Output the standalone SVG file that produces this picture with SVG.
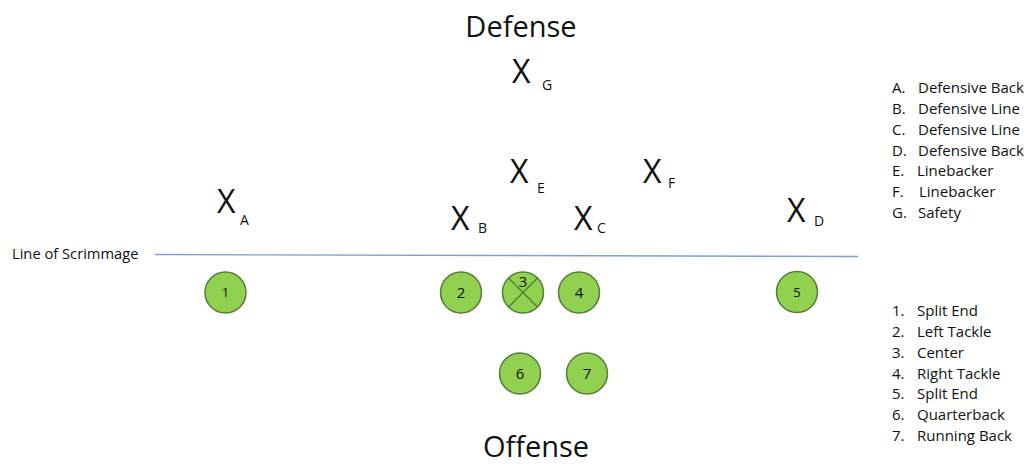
<svg xmlns="http://www.w3.org/2000/svg" width="1028" height="464" viewBox="0 0 1028 464">
<style>
text{font-family:"Open Sans","Liberation Sans",sans-serif;fill:#111;}
.title{font-size:29px;text-anchor:middle;}
.x{font-size:32px;}
.sub{font-size:14px;}
.leg{font-size:15px;}
.num{font-size:15px;text-anchor:middle;}
.snum{font-size:13px;text-anchor:middle;}
.p{fill:#92D050;stroke:#527F37;stroke-width:1.5;}
.cross{stroke:#527F37;stroke-width:1.5;fill:none;}
</style>
<rect width="1028" height="464" fill="#ffffff"/>
<g id="titles">
<text class="title" x="521" y="37">Defense</text>
<text class="title" x="536" y="457">Offense</text>
</g>
<g id="connectors">
<line x1="155" y1="254.5" x2="858" y2="256.5" stroke="#7F9FD6" stroke-width="1.3"/>
<text x="12" y="259" style="font-size:14.7px">Line of Scrimmage</text>
</g>
<g id="def-A"><text class="x" x="217" y="213">X</text><text class="sub" x="240" y="225">A</text></g>
<g id="def-B"><text class="x" x="451" y="230">X</text><text class="sub" x="478" y="233">B</text></g>
<g id="def-C"><text class="x" x="574" y="230">X</text><text class="sub" x="597" y="233">C</text></g>
<g id="def-D"><text class="x" x="787" y="222">X</text><text class="sub" x="814" y="226">D</text></g>
<g id="def-E"><text class="x" x="510" y="183">X</text><text class="sub" x="537" y="193">E</text></g>
<g id="def-F"><text class="x" x="643" y="183">X</text><text class="sub" x="668" y="188">F</text></g>
<g id="def-G"><text class="x" x="512" y="83">X</text><text class="sub" x="542" y="90">G</text></g>
<g id="off-1"><circle class="p" cx="225.5" cy="292.5" r="20.5"/><text class="snum" x="225.5" y="297">1</text></g>
<g id="off-2"><circle class="p" cx="461" cy="292.5" r="20.5"/><text class="num" x="461" y="298">2</text></g>
<g id="off-3"><circle class="p" cx="523" cy="292.5" r="20.5"/><line class="cross" x1="508.5" y1="278" x2="537.5" y2="307"/><line class="cross" x1="537.5" y1="278" x2="508.5" y2="307"/><text class="num" x="523" y="287">3</text></g>
<g id="off-4"><circle class="p" cx="579" cy="292.5" r="20.5"/><text class="num" x="579" y="298">4</text></g>
<g id="off-5"><circle class="p" cx="797" cy="292" r="20.5"/><text class="snum" x="797" y="296.5">5</text></g>
<g id="off-6"><circle class="p" cx="520" cy="373.5" r="20.5"/><text class="num" x="520" y="379">6</text></g>
<g id="off-7"><circle class="p" cx="587" cy="373.5" r="20.5"/><text class="num" x="587" y="379">7</text></g>
<g id="legend-defense">
<text class="leg" x="892" y="93">A.</text><text class="leg" x="918" y="93">Defensive Back</text>
<text class="leg" x="892" y="114">B.</text><text class="leg" x="918" y="114">Defensive Line</text>
<text class="leg" x="892" y="135">C.</text><text class="leg" x="918" y="135">Defensive Line</text>
<text class="leg" x="892" y="155.5">D.</text><text class="leg" x="918" y="155.5">Defensive Back</text>
<text class="leg" x="892" y="176">E.</text><text class="leg" x="917" y="176">Linebacker</text>
<text class="leg" x="892" y="197">F.</text><text class="leg" x="919" y="197">Linebacker</text>
<text class="leg" x="892" y="218">G.</text><text class="leg" x="918" y="218">Safety</text>
</g>
<g id="legend-offense">
<text class="leg" x="892" y="316">1.</text><text class="leg" x="917" y="316">Split End</text>
<text class="leg" x="892" y="337">2.</text><text class="leg" x="917" y="337">Left Tackle</text>
<text class="leg" x="892" y="357.5">3.</text><text class="leg" x="917" y="357.5">Center</text>
<text class="leg" x="892" y="378.5">4.</text><text class="leg" x="917" y="378.5">Right Tackle</text>
<text class="leg" x="892" y="399">5.</text><text class="leg" x="917" y="399">Split End</text>
<text class="leg" x="892" y="420">6.</text><text class="leg" x="917" y="420">Quarterback</text>
<text class="leg" x="892" y="441">7.</text><text class="leg" x="917" y="441">Running Back</text>
</g>
</svg>
